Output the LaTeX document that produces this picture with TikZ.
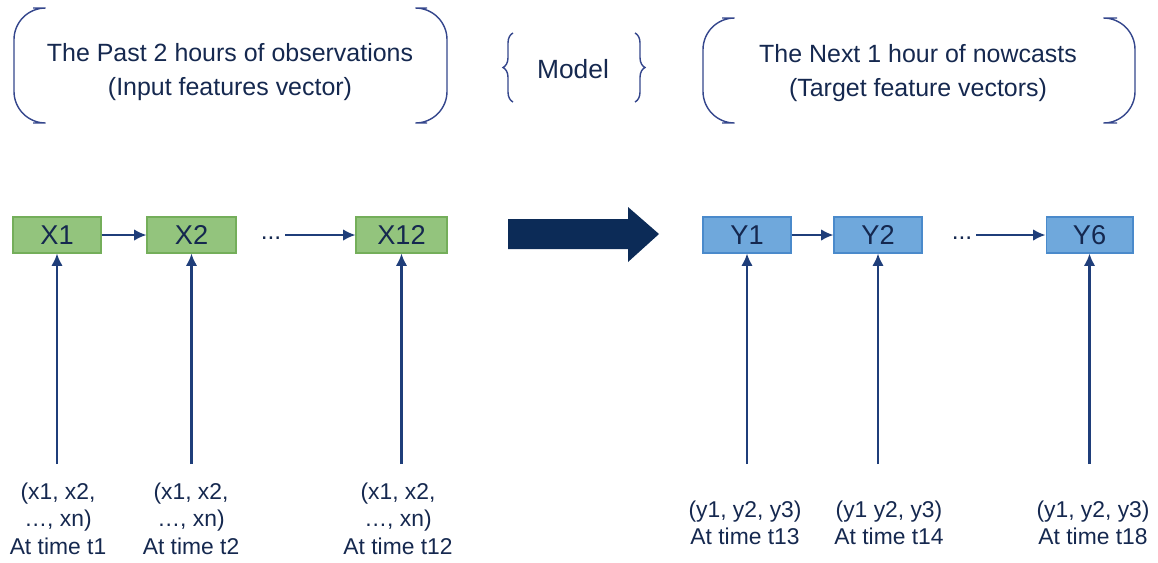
\documentclass[tikz,border=0pt]{standalone}
\usepackage{fontspec}
\setmainfont{Liberation Sans}
\usepackage{tikz}
\usetikzlibrary{arrows.meta,decorations.pathreplacing}
\definecolor{navy}{HTML}{15284F}
\definecolor{arrowblue}{HTML}{1F3E7A}
\definecolor{bigblue}{HTML}{0C2B57}
\definecolor{brk}{HTML}{34468C}
\definecolor{boxgreen}{HTML}{93C47D}
\definecolor{edgegreen}{HTML}{74AE5A}
\definecolor{boxblue}{HTML}{6FA8DC}
\definecolor{edgeblue}{HTML}{4A8ACB}

\begin{document}
\begin{tikzpicture}[x=0.02cm,y=-0.02cm,
    every node/.style={text=navy},
    xbox/.style={draw=edgegreen,fill=boxgreen,line width=0.6pt,minimum width=1.76cm,
      minimum height=0.72cm,inner sep=0pt,font=\fontsize{15.5}{15.5}\selectfont},
    ybox/.style={xbox,draw=edgeblue,fill=boxblue},
    title/.style={align=center,font=\fontsize{14.2}{19.5}\selectfont},
    lbl/.style={align=center,anchor=north,inner sep=0pt,font=\fontsize{13}{15.4}\selectfont},
    dots/.style={font=\fontsize{14}{14}\selectfont,inner sep=2pt,text height=0.5em,text depth=0pt},
    link/.style={draw=arrowblue,line width=1.1pt,-{Latex[length=7pt,width=6.5pt]}},
    feed/.style={link,line width=1.3pt},
    bracket/.style={draw=brk,line width=0.8pt}]
    \useasboundingbox (0,0) rectangle (1158,562);

    % titles
    \node[title] (past) at (230,72) {The Past 2 hours of observations\\(Input features vector)};
    \node[title,font=\fontsize{15}{15}\selectfont] (model) at (573,69) {Model};
    \node[title] (next) at (918,73) {The Next 1 hour of nowcasts\\(Target feature vectors)};
    \draw[bracket,rounded corners=18] (33,8) -- (14,8) -- (14,123) -- (33,123);
    \draw[bracket,rounded corners=18] (427,8) -- (447,8) -- (447,123) -- (427,123);
    \draw[bracket,rounded corners=18] (722,18) -- (703,18) -- (703,123) -- (722,123);
    \draw[bracket,rounded corners=18] (1117,18) -- (1135,18) -- (1135,123) -- (1117,123);
    \draw[bracket,decorate,decoration={brace,amplitude=0.2cm}] (513,102) -- (513,33);
    \draw[bracket,decorate,decoration={brace,amplitude=0.2cm}] (635,33) -- (635,102);

    % input sequence
    \node[xbox] (x1) at (57,235) {X1};
    \node[xbox,minimum width=1.78cm] (x2) at (191.5,235) {X2};
    \node[dots] (xd) at (271,235) {...};
    \node[xbox,minimum width=1.82cm] (x12) at (401.5,235) {X12};
    \draw[link] (x1) -- (x2);
    \draw[link] (xd) -- (x12);

    % big arrow
    \fill[bigblue] (508,219) -- (628,219) -- (628,207) -- (659,234) -- (628,262)
        -- (628,249) -- (508,249) -- cycle;

    % output sequence
    \node[ybox] (y1) at (747,235) {Y1};
    \node[ybox] (y2) at (878,235) {Y2};
    \node[dots] (yd) at (962,235) {...};
    \node[ybox,minimum width=1.74cm] (y6) at (1089.5,235) {Y6};
    \draw[link] (y1) -- (y2);
    \draw[link] (yd) -- (y6);

    % feature vectors
    \coordinate (foot) at (0,464);
    \foreach \b in {x1,x2,x12,y1,y2,y6}
        \draw[feed] (\b |- foot) -- (\b.south);
    \node[lbl] (lx1) at (58,483) {(x1, x2,\\…, xn)\\At time t1};
    \node[lbl] (lx2) at (191,483) {(x1, x2,\\…, xn)\\At time t2};
    \node[lbl] (lx12) at (398,483) {(x1, x2,\\…, xn)\\At time t12};
    \node[lbl] (ly1) at (745,501) {(y1, y2, y3)\\At time t13};
    \node[lbl] (ly2) at (889,501) {(y1 y2, y3)\\At time t14};
    \node[lbl] (ly6) at (1093,501) {(y1, y2, y3)\\At time t18};
\end{tikzpicture}
\end{document}
